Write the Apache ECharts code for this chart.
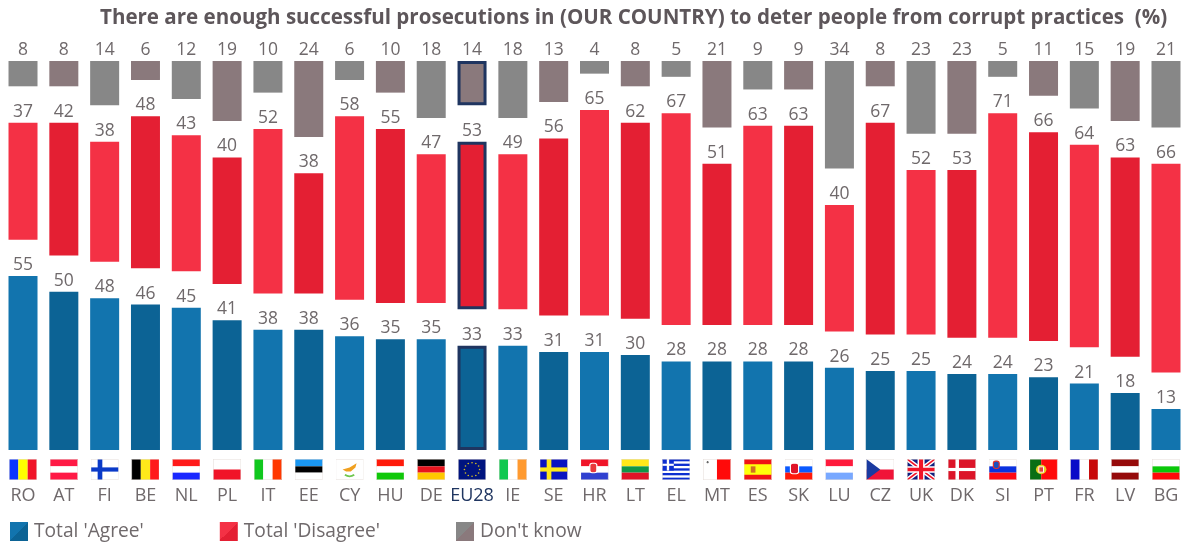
<!DOCTYPE html>
<html>
<head>
<meta charset="utf-8">
<title>Successful prosecutions</title>
<script src="https://cdn.jsdelivr.net/npm/echarts@6/dist/echarts.min.js"></script>
<style>
  html, body { margin: 0; background: #fff; }
  #main { width: 1184px; height: 544px; }
</style>
</head>
<body>
<div id="main"></div>
<script>
var countries = ['RO','AT','FI','BE','NL','PL','IT','EE','CY','HU','DE','EU28','IE','SE','HR','LT','EL','MT','ES','SK','LU','CZ','UK','DK','SI','PT','FR','LV','BG'];
var agree    = [55,50,48,46,45,41,38,38,36,35,35,33,33,31,31,30,28,28,28,28,26,25,25,24,24,23,21,18,13];
var disagree = [37,42,38,48,43,40,52,38,58,55,47,53,49,56,65,62,67,51,63,63,40,67,52,53,71,66,64,63,66];
var dontKnow = [8,8,14,6,12,19,10,24,6,10,18,14,18,13,4,8,5,21,9,9,34,8,23,23,5,11,15,19,21];

var titleText = 'There are enough successful prosecutions in (OUR COUNTRY) to deter people from corrupt practices  (%)';
var textColor = '#6f696b';
var euColor = '#1f3560';
var spacer = 11.5; // white space between the stacked blocks, in axis units

// flags, viewBox 24x20
function h(a, b, c) {
  return '<rect width="24" height="7" fill="' + a + '"/><rect y="7" width="24" height="6" fill="' + b + '"/><rect y="13" width="24" height="7" fill="' + c + '"/>';
}
function v(a, b, c) {
  return '<rect width="8" height="20" fill="' + a + '"/><rect x="8" width="8" height="20" fill="' + b + '"/><rect x="16" width="8" height="20" fill="' + c + '"/>';
}
function cross(bg, fg, w) {
  return '<rect width="24" height="20" fill="' + bg + '"/><rect x="' + (8 - w / 2) + '" width="' + w + '" height="20" fill="' + fg + '"/><rect y="' + (10 - w / 2) + '" width="24" height="' + w + '" fill="' + fg + '"/>';
}
function dots() {
  var s = '<rect width="24" height="20" fill="#00147f"/>';
  for (var i = 0; i < 12; i++) {
    var a = i * Math.PI / 6;
    s += '<circle cx="' + (12 + 6.5 * Math.cos(a)) + '" cy="' + (10 + 6.5 * Math.sin(a)) + '" r="0.7" fill="#d8c020"/>';
  }
  return s;
}
function greek() {
  var s = '<rect width="24" height="20" fill="#fff"/>';
  for (var i = 0; i < 5; i++) s += '<rect y="' + (i * 4.44) + '" width="24" height="2.2" fill="#0d2fd0"/>';
  return s + '<rect width="10" height="11" fill="#0d2fd0"/><rect x="4" width="2" height="11" fill="#fff"/><rect y="4.5" width="10" height="2" fill="#fff"/>';
}
var crest = '<rect x="8" y="4" width="6" height="9" rx="2" fill="#e8383c" stroke="#fff" stroke-width="1"/>';
var flags = {
  RO: v('#0a35ff', '#ffff00', '#f01428'),
  AT: h('#ff1a45', '#fff', '#ff1a45'),
  FI: cross('#fff', '#0a3ac8', 4),
  BE: v('#000', '#ffe81a', '#ff1a1a'),
  NL: h('#ff1a1a', '#fff', '#1a28ff'),
  PL: '<rect width="24" height="10" fill="#fff"/><rect y="10" width="24" height="10" fill="#f01428"/>',
  IT: v('#10c81e', '#fff', '#ff3800'),
  EE: h('#1a96f0', '#000', '#fff'),
  CY: '<rect width="24" height="20" fill="#fff"/><path d="M6 10 L12 8 L18 4 L17 8 L13 12 L9 12 Z" fill="#f0a020"/><path d="M8 15 Q12 18 16 15" stroke="#70c850" stroke-width="1.5" fill="none"/>',
  HU: h('#ff1a0a', '#fff', '#10c80a'),
  DE: h('#000', '#e8141e', '#ffc800'),
  EU28: dots(),
  IE: v('#10c850', '#fff', '#ff9a30'),
  SE: cross('#0a14c0', '#ffe81a', 4),
  HR: h('#f01428', '#fff', '#3040d0') + crest,
  LT: h('#ffe81a', '#109648', '#e01428'),
  EL: greek(),
  MT: '<rect width="12" height="20" fill="#fff"/><rect x="12" width="12" height="20" fill="#ff0a0a"/><path d="M3 3h2M4 2v2" stroke="#666" stroke-width="1"/>',
  ES: '<rect width="24" height="20" fill="#f01414"/><rect y="5" width="24" height="10" fill="#ffff0a"/><rect x="6" y="7" width="4" height="6" fill="#d07020"/>',
  SK: h('#fff', '#0a5aff', '#ff1a0a') + '<rect x="5" y="4" width="7" height="10" rx="2" fill="#e01428" stroke="#fff" stroke-width="1"/>',
  LU: h('#ff1a3c', '#fff', '#78a8ff'),
  CZ: '<rect width="24" height="10" fill="#fff"/><rect y="10" width="24" height="10" fill="#f01438"/><path d="M0 0 L12 10 L0 20 Z" fill="#1a3aa0"/>',
  UK: '<rect width="24" height="20" fill="#10207f"/><path d="M0 0L24 20M24 0L0 20" stroke="#fff" stroke-width="4"/><path d="M0 0L24 20M24 0L0 20" stroke="#f01428" stroke-width="1.5"/><path d="M12 0V20M0 10H24" stroke="#fff" stroke-width="6"/><path d="M12 0V20M0 10H24" stroke="#f01428" stroke-width="3.5"/>',
  DK: cross('#dc1428', '#fff', 3),
  SI: h('#fff', '#0a32e0', '#ff0a14') + '<rect x="4" y="2" width="5" height="7" rx="2" fill="#1a50c0" stroke="#e03030" stroke-width="1"/>',
  PT: '<rect width="10" height="20" fill="#0a6e14"/><rect x="10" width="14" height="20" fill="#ff0a0a"/><circle cx="10" cy="10" r="4.5" fill="#e8d020"/><rect x="8" y="7.5" width="4" height="5" fill="#e04040" stroke="#fff" stroke-width="0.8"/>',
  FR: v('#0a0ac8', '#fff', '#c80a0a'),
  LV: h('#960a0a', '#fff', '#960a0a'),
  BG: h('#fff', '#0ac80a', '#ff0a0a')
};

var richLabels = {
  code: { color: textColor, fontSize: 18, lineHeight: 28, height: 24, verticalAlign: 'bottom' },
  eu: { color: euColor, fontSize: 18, lineHeight: 28, height: 24, verticalAlign: 'bottom' }
};
countries.forEach(function (c) {
  var svg = '<svg xmlns="http://www.w3.org/2000/svg" width="56" height="42" viewBox="0 0 24 20" preserveAspectRatio="none">' + flags[c] +
    '<rect x="0.25" y="0.25" width="23.5" height="19.5" fill="none" stroke="#e6dfdb" stroke-width="0.5"/></svg>';
  richLabels[c] = {
    width: 28, height: 21,
    backgroundColor: { image: 'data:image/svg+xml;charset=utf-8,' + encodeURIComponent(svg) }
  };
});

// every second country is a shade darker, EU28 gets a navy outline
function blocks(values, light, dark) {
  return values.map(function (val, i) {
    var style = { color: i % 2 ? dark : light, borderColor: i % 2 ? dark : light, borderWidth: 0 };
    if (countries[i] === 'EU28') { style.borderColor = euColor; style.borderWidth = 3; }
    return { value: val, itemStyle: style };
  });
}
function splitIcon(light, dark) {
  return new echarts.graphic.LinearGradient(0, 0, 1, 1, [
    { offset: 0, color: light }, { offset: 0.5, color: light },
    { offset: 0.5, color: dark }, { offset: 1, color: dark }
  ]);
}
function blockSeries(name, values, light, dark) {
  return {
    name: name, type: 'bar', stack: 'total', barWidth: 29,
    itemStyle: { color: splitIcon(light, dark) },
    label: { show: true, position: 'top', distance: 2, color: textColor, fontSize: 17.5, fontFamily: 'Open Sans' },
    data: blocks(values, light, dark)
  };
}
function gapSeries() {
  return {
    type: 'bar', stack: 'total', barWidth: 29, silent: true,
    itemStyle: { color: 'transparent' },
    data: countries.map(function () { return spacer; })
  };
}

var option = {
  animation: false,
  backgroundColor: '#fff',
  textStyle: { fontFamily: 'Open Sans' },
  title: {
    text: titleText, left: 95, top: 3,
    textStyle: { color: '#5d565a', fontSize: 20.55, fontWeight: 'bold', fontFamily: 'Open Sans' }
  },
  legend: {
    left: 5, top: 517, itemWidth: 18, itemHeight: 19, itemGap: 76, icon: 'rect', selectedMode: false,
    data: ["Total 'Agree'", "Total 'Disagree'", "Don't know"],
    textStyle: { color: textColor, fontSize: 19.2, fontFamily: 'Open Sans', padding: [2, 0, 0, 1] }
  },
  grid: { left: 2.6, width: 1183.8, top: 61, height: 389, outerBoundsMode: 'none' },
  xAxis: {
    type: 'category', data: countries,
    axisLine: { show: false }, axisTick: { show: false },
    axisLabel: {
      interval: 0, margin: 9, fontFamily: 'Open Sans', rich: richLabels,
      formatter: function (c) { return '{' + c + '|}\n{' + (c === 'EU28' ? 'eu' : 'code') + '|' + c + '}'; }
    }
  },
  yAxis: { type: 'value', min: 0, max: 123, show: false, splitLine: { show: false } },
  series: [
    blockSeries("Total 'Agree'", agree, '#1274ae', '#0c6395'),
    gapSeries(),
    blockSeries("Total 'Disagree'", disagree, '#f43145', '#e41f33'),
    gapSeries(),
    blockSeries("Don't know", dontKnow, '#878787', '#8a797c')
  ]
};

var myChart = echarts.init(document.getElementById('main'));
myChart.setOption(option);
</script>
</body>
</html>
